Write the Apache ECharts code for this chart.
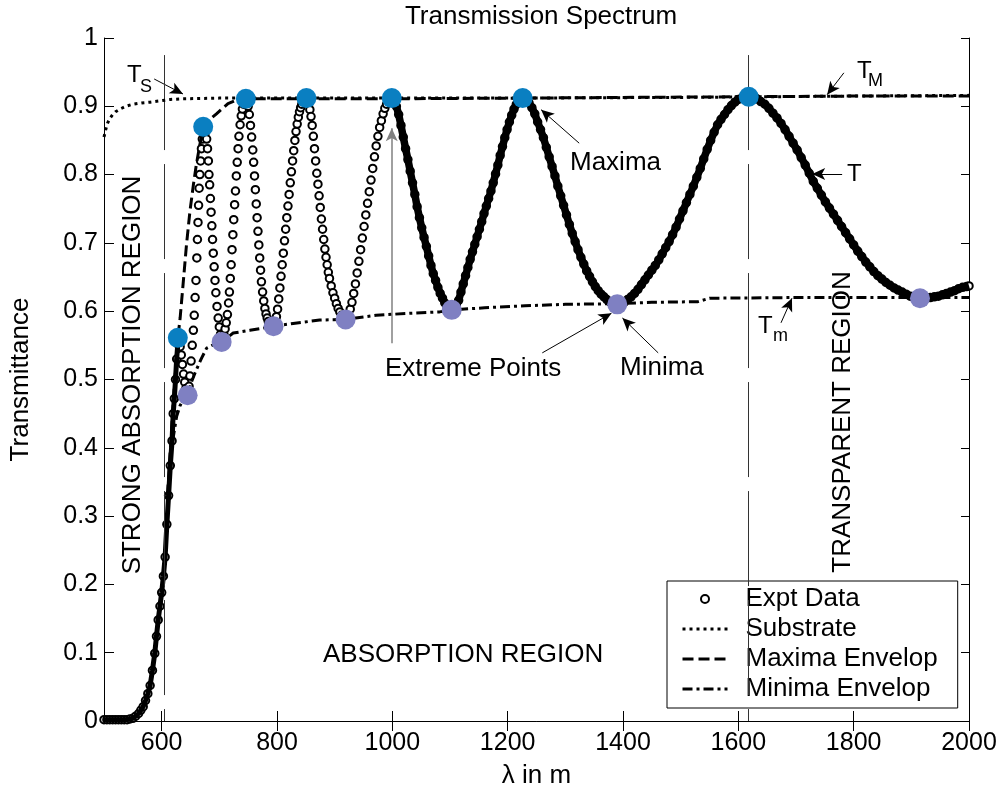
<!DOCTYPE html>
<html>
<head>
<meta charset="utf-8">
<script src="https://cdn.jsdelivr.net/npm/echarts@6/dist/echarts.min.js"></script>
<style>
  html, body { margin: 0; padding: 0; background: #fff; }
  #chart { width: 1001px; height: 794px; }
</style>
</head>
<body>
<div id="chart"></div>
<script>
// tick labels ----------------------------------------------
var xTicks = [600, 800, 1000, 1200, 1400, 1600, 1800, 2000];

// expt data: absorption edge (dense, drawn as a heavy band) --
var exptEdge = [
    [500, 0.002], [505, 0.002], [510, 0.002], [515, 0.002], [520, 0.002], [525, 0.002], [530, 0.002],
    [535, 0.002], [540, 0.002], [545, 0.003], [550, 0.004], [555, 0.007], [560, 0.011], [564, 0.016],
    [568, 0.021], [572, 0.030], [576, 0.040], [580, 0.052], [584, 0.074], [588, 0.099], [591, 0.124],
    [594, 0.148], [597, 0.168], [600, 0.188], [603, 0.212], [606, 0.240], [609, 0.288], [612, 0.330],
    [615, 0.374], [618, 0.410], [620, 0.450], [622, 0.472], [624, 0.500], [626, 0.530], [628, 0.552],
    [630, 0.557]
];

// expt data: fringes 630-1000 nm (open circles) ------------
var exptFringe = [
    [632, 0.548], [634, 0.536], [636, 0.522], [638, 0.508], [640, 0.496], [642, 0.487], [644, 0.480],
    [646, 0.478], [647.5, 0.490], [649, 0.505], [651, 0.527], [653, 0.550], [655, 0.572], [656.5, 0.594],
    [658, 0.620], [659.5, 0.645], [661, 0.678], [662, 0.705], [663, 0.730], [664, 0.755], [665, 0.780],
    [666.2, 0.800], [667.5, 0.820], [669, 0.838], [670.5, 0.852], [672, 0.864],
    [674, 0.868], [676, 0.862], [678, 0.852], [679.5, 0.838], [681, 0.820], [682, 0.800], [683.2, 0.785],
    [684.5, 0.765], [685.7, 0.745], [687, 0.725], [688.2, 0.705], [689.5, 0.685], [691, 0.665],
    [692.5, 0.645], [694, 0.627], [696, 0.607], [698, 0.590], [700, 0.577], [702, 0.566], [704, 0.558],
    [706, 0.562], [708, 0.566], [710, 0.574], [712, 0.583], [714, 0.595], [716, 0.612], [717.5, 0.628],
    [719, 0.648], [720.5, 0.668], [722, 0.690], [723.5, 0.712], [725, 0.734], [726.5, 0.756], [728, 0.776],
    [729.5, 0.798], [731, 0.818], [732.5, 0.838], [734, 0.856], [736, 0.873], [738, 0.886], [740, 0.896],
    [742, 0.903], [744, 0.909], [746, 0.911],
    [748, 0.909], [750, 0.900], [752, 0.888], [754, 0.872], [756, 0.855], [758, 0.836], [759.5, 0.818],
    [761, 0.798], [762.5, 0.778], [764, 0.757], [765.5, 0.737], [767, 0.717], [768.5, 0.697], [770, 0.678],
    [771.5, 0.660], [773, 0.643], [775, 0.628], [777, 0.615], [779, 0.604], [781, 0.596], [783, 0.590],
    [785, 0.585], [787, 0.582], [789, 0.580], [791, 0.578], [793, 0.578], [795, 0.579],
    [797, 0.583], [799, 0.592], [801, 0.603], [803, 0.618], [805, 0.634], [807, 0.651], [809, 0.668],
    [811, 0.685], [813, 0.703], [815, 0.720], [817, 0.737], [819, 0.754], [821, 0.771], [823, 0.788],
    [825, 0.804], [827, 0.820], [829, 0.835], [831, 0.850], [833, 0.863], [835, 0.874], [837, 0.884],
    [839, 0.892], [841, 0.898], [843, 0.903], [845, 0.907], [847, 0.910], [849, 0.911], [851, 0.912],
    [853, 0.910], [855, 0.904], [857, 0.895], [859, 0.885], [861, 0.872], [863, 0.856], [865, 0.838],
    [867, 0.820], [869, 0.802], [871, 0.786], [873, 0.769], [875, 0.752], [877, 0.735], [879, 0.720],
    [881, 0.705], [883, 0.691], [885, 0.679], [887, 0.668], [889, 0.657], [891, 0.648], [894, 0.637],
    [897, 0.627], [900, 0.619], [903, 0.611], [906, 0.604], [909, 0.599], [912, 0.594], [915, 0.590],
    [918, 0.588], [921, 0.589],
    [924, 0.595], [927, 0.603], [930, 0.613], [933, 0.626], [936, 0.640], [939, 0.656], [942, 0.673],
    [945, 0.690], [948, 0.707], [951, 0.724], [954, 0.741], [957, 0.758], [960, 0.775], [963, 0.792],
    [966, 0.809], [969, 0.826], [972, 0.842], [975, 0.856], [978, 0.869], [981, 0.879], [984, 0.889],
    [987, 0.897], [990, 0.903], [993, 0.908], [996, 0.911], [999, 0.912]
];

// expt data: 1000-2000 nm (dense, drawn as a heavy band) ---
var exptTail = [
    [1003, 0.909], [1007, 0.900], [1011, 0.888], [1015, 0.872], [1019, 0.855], [1023, 0.838], [1027, 0.822],
    [1031, 0.805], [1035, 0.788], [1039, 0.771], [1043, 0.753], [1047, 0.737], [1051, 0.722], [1055, 0.708],
    [1059, 0.695], [1063, 0.681], [1067, 0.667], [1071, 0.655], [1075, 0.645], [1079, 0.635], [1083, 0.626],
    [1087, 0.619], [1091, 0.612], [1095, 0.607], [1099, 0.604], [1103, 0.602], [1107, 0.603],
    [1111, 0.609], [1115, 0.616], [1119, 0.628], [1123, 0.640], [1127, 0.652], [1131, 0.664], [1135, 0.676],
    [1139, 0.687], [1143, 0.698], [1147, 0.709], [1151, 0.720], [1155, 0.731], [1159, 0.743], [1163, 0.754],
    [1167, 0.765], [1171, 0.776], [1175, 0.788], [1179, 0.801], [1183, 0.814], [1187, 0.828], [1191, 0.841],
    [1195, 0.854], [1199, 0.866], [1203, 0.877], [1207, 0.887], [1211, 0.896], [1215, 0.903], [1219, 0.908],
    [1223, 0.911], [1227, 0.912],
    [1232, 0.910], [1237, 0.905], [1242, 0.898], [1247, 0.889], [1252, 0.877], [1257, 0.866], [1262, 0.854],
    [1267, 0.840], [1272, 0.826], [1277, 0.812], [1282, 0.798], [1287, 0.783], [1292, 0.769], [1297, 0.755],
    [1302, 0.741], [1307, 0.727], [1312, 0.714], [1317, 0.702], [1322, 0.690], [1327, 0.679], [1332, 0.669],
    [1337, 0.659], [1342, 0.651], [1347, 0.643], [1352, 0.636], [1357, 0.630], [1362, 0.625], [1367, 0.621],
    [1372, 0.617], [1377, 0.614], [1382, 0.612], [1387, 0.610], [1392, 0.610], [1397, 0.611],
    [1402, 0.613], [1408, 0.617], [1414, 0.621], [1420, 0.626], [1426, 0.632], [1432, 0.639], [1438, 0.646],
    [1444, 0.653], [1450, 0.660], [1456, 0.667], [1462, 0.675], [1468, 0.684], [1474, 0.693], [1480, 0.702],
    [1486, 0.712], [1492, 0.723], [1498, 0.735], [1504, 0.747], [1510, 0.759], [1516, 0.771], [1522, 0.783],
    [1528, 0.796], [1534, 0.809], [1540, 0.823], [1546, 0.837], [1552, 0.850], [1558, 0.862], [1564, 0.873],
    [1570, 0.881], [1576, 0.888], [1582, 0.895], [1588, 0.901], [1594, 0.906], [1600, 0.910], [1606, 0.912],
    [1612, 0.914], [1618, 0.914],
    [1625, 0.913], [1632, 0.911], [1639, 0.907], [1646, 0.903], [1653, 0.897], [1660, 0.890], [1667, 0.883],
    [1674, 0.875], [1681, 0.866], [1688, 0.856], [1695, 0.846], [1702, 0.836], [1709, 0.825], [1716, 0.814],
    [1723, 0.802], [1730, 0.790], [1737, 0.780], [1744, 0.770], [1751, 0.760], [1758, 0.751], [1765, 0.742],
    [1772, 0.733], [1779, 0.724], [1786, 0.715], [1793, 0.706], [1800, 0.697], [1807, 0.688], [1814, 0.680],
    [1821, 0.672], [1828, 0.665], [1835, 0.658], [1842, 0.652], [1849, 0.647], [1856, 0.642], [1863, 0.638],
    [1870, 0.634], [1877, 0.631], [1884, 0.628], [1891, 0.625], [1898, 0.622], [1905, 0.620], [1912, 0.619],
    [1919, 0.619], [1926, 0.619], [1933, 0.620], [1940, 0.621], [1947, 0.622], [1954, 0.624], [1961, 0.626],
    [1968, 0.628], [1975, 0.630], [1982, 0.633], [1989, 0.635], [1996, 0.636], [2000, 0.637]
];

// substrate and envelopes ----------------------------------
var substrate = [
    [500, 0.855], [503, 0.866], [506, 0.875], [510, 0.882], [515, 0.888], [520, 0.892], [528, 0.896],
    [538, 0.900], [550, 0.903], [565, 0.905], [580, 0.906], [597, 0.908], [615, 0.910], [637, 0.911],
    [700, 0.912], [900, 0.912], [1200, 0.912], [1500, 0.913], [1800, 0.915], [2000, 0.916]
];
var maxEnvelop = [
    [610, 0.330], [616, 0.410], [622, 0.490], [628, 0.560], [632, 0.590], [637, 0.638], [643, 0.697],
    [649, 0.746], [655, 0.785], [660, 0.814], [666, 0.843], [672, 0.868], [685, 0.882], [695, 0.889],
    [715, 0.904], [730, 0.909], [746, 0.911], [850, 0.911], [1000, 0.911], [1227, 0.912], [1400, 0.913],
    [1618, 0.914], [1800, 0.915], [2000, 0.915]
];
var minEnvelop = [
    [615, 0.380], [620, 0.415], [626, 0.446], [632, 0.462], [638, 0.471], [645, 0.477], [652, 0.497],
    [658, 0.510], [669, 0.531], [678, 0.546], [690, 0.551], [704, 0.555], [724, 0.568], [753, 0.572],
    [782, 0.576], [794, 0.578], [828, 0.582], [874, 0.587], [919, 0.588], [972, 0.594], [1030, 0.597],
    [1082, 0.599], [1103, 0.602], [1160, 0.605], [1230, 0.608], [1300, 0.610], [1390, 0.611],
    [1450, 0.613], [1530, 0.614], [1550, 0.619], [1700, 0.620], [2000, 0.620]
];

// extreme points -------------------------------------------
var maximaPts = [[628, 0.561], [672, 0.870], [746, 0.911], [851, 0.912], [999, 0.912], [1226, 0.912], [1618, 0.914]];
var minimaPts = [[645, 0.477], [704, 0.555], [794, 0.578], [919, 0.588], [1103, 0.602], [1390, 0.610], [1915, 0.619]];

// annotation arrows [from, to] in data units ---------------
var arrows = [
    [[587, 0.940], [637, 0.918]],   // T_S
    [[1783, 0.949], [1754, 0.917]], // T_M
    [[1324, 0.846], [1258, 0.895]], // Maxima
    [[1780, 0.801], [1728, 0.801]], // T
    [[1461, 0.539], [1399, 0.590]], // Minima
    [[1260, 0.539], [1380, 0.597]], // Extreme Points
    [[1674, 0.583], [1693, 0.619]]  // T_m
];
var regionLines = [604, 1617];

var FONT = 'Liberation Sans, Arial, Helvetica, sans-serif';
var myChart = echarts.init(document.getElementById('chart'));

function txt(text, x, y, size) {
    return {
        type: 'text', x: x, y: y, silent: true, z: 20,
        style: {text: text, font: size + 'px ' + FONT, fill: '#000', textAlign: 'left', textVerticalAlign: 'middle'}
    };
}

var arrowLines = arrows.map(function (a) {
    return [{coord: a[0], symbol: 'none'}, {coord: a[1], symbol: 'arrow'}];
});
// vertical guide for "Extreme Points"
arrowLines.push([
    {coord: [999, 0.553], symbol: 'none', lineStyle: {color: '#808080', width: 1.5}},
    {coord: [999, 0.868], symbol: 'arrow'}
]);
regionLines.forEach(function (v) {
    arrowLines.push([
        {coord: [v, 0.975], symbol: 'none', lineStyle: {color: '#333', width: 1, type: [95, 14]}},
        {coord: [v, 0], symbol: 'none'}
    ]);
});

var option = {
    animation: false,
    backgroundColor: '#fff',
    textStyle: {fontFamily: FONT},
    title: {
        text: 'Transmission Spectrum',
        left: 536, top: -1, textAlign: 'center',
        textStyle: {fontSize: 26, fontWeight: 'normal', color: '#000', fontFamily: FONT}
    },
    grid: {left: 104, right: 32, top: 38, bottom: 73},
    legend: {
        orient: 'vertical',
        left: 667, top: 581,
        padding: [3, 20, 4, 14],
        itemGap: 0,
        itemWidth: 45, itemHeight: 8,
        borderColor: '#000', borderWidth: 1,
        backgroundColor: '#fff',
        textStyle: {fontSize: 26, color: '#000', lineHeight: 30, padding: [0, 0, 0, 13], fontFamily: FONT},
        data: [
            {name: 'Expt Data'},
            {name: 'Substrate', itemStyle: {opacity: 0}, lineStyle: {width: 3}},
            {name: 'Maxima Envelop', itemStyle: {opacity: 0}, lineStyle: {width: 3}},
            {name: 'Minima Envelop', itemStyle: {opacity: 0}, lineStyle: {width: 3}}
        ]
    },
    xAxis: [{
        type: 'value', min: 500, max: 2000, position: 'bottom',
        name: 'λ in m', nameLocation: 'middle', nameGap: 42,
        nameTextStyle: {fontSize: 26, color: '#000', fontFamily: FONT},
        axisLine: {lineStyle: {color: '#000', width: 1}},
        axisTick: {inside: true, length: 10, customValues: xTicks, lineStyle: {color: '#000'}},
        axisLabel: {
            customValues: xTicks, fontSize: 25, color: '#000', margin: 10, fontFamily: FONT,
            formatter: function (v) { return String(v); }
        },
        splitLine: {show: false}
    }, {
        type: 'value', min: 500, max: 2000, position: 'top',
        axisLine: {lineStyle: {color: '#000', width: 1}},
        axisTick: {inside: true, length: 10, customValues: xTicks, lineStyle: {color: '#000'}},
        axisLabel: {show: false},
        splitLine: {show: false}
    }],
    yAxis: [{
        type: 'value', min: 0, max: 1, interval: 0.1, position: 'left',
        name: 'Transmittance', nameLocation: 'middle', nameGap: 70, nameRotate: 90,
        nameTextStyle: {fontSize: 26, color: '#000', fontFamily: FONT},
        axisLine: {lineStyle: {color: '#000', width: 1}},
        axisTick: {inside: true, length: 10, lineStyle: {color: '#000'}},
        axisLabel: {fontSize: 25, color: '#000', margin: 6, fontFamily: FONT},
        splitLine: {show: false}
    }, {
        type: 'value', min: 0, max: 1, interval: 0.1, position: 'right',
        axisLine: {lineStyle: {color: '#000', width: 1}},
        axisTick: {inside: true, length: 8, lineStyle: {color: '#000'}},
        axisLabel: {show: false},
        splitLine: {show: false}
    }],
    series: [
        {
            name: 'Expt Data', type: 'scatter', z: 3,
            data: exptEdge.concat(exptFringe, exptTail),
            symbol: 'emptyCircle', symbolSize: 7.5,
            itemStyle: {color: '#000', borderColor: '#000', borderWidth: 1.1, opacity: 1}
        },
        {
            name: 'edgeBand', type: 'line', z: 4, data: exptEdge,
            symbol: 'none', lineStyle: {color: '#000', width: 5}
        },
        {
            name: 'tailBand', type: 'line', z: 4, data: exptTail,
            symbol: 'none', lineStyle: {color: '#000', width: 7.5}
        },
        {
            name: 'Substrate', type: 'line', z: 5, data: substrate,
            symbol: 'none', lineStyle: {color: '#000', width: 3, type: [3, 4]}
        },
        {
            name: 'Maxima Envelop', type: 'line', z: 6, data: maxEnvelop,
            symbol: 'none', lineStyle: {color: '#000', width: 3, type: [11, 5]}
        },
        {
            name: 'Minima Envelop', type: 'line', z: 6, data: minEnvelop,
            symbol: 'none', lineStyle: {color: '#000', width: 3, type: [10, 4, 3, 4]}
        },
        {
            name: 'Maxima', type: 'scatter', z: 8, data: maximaPts,
            symbol: 'circle', symbolSize: 20, itemStyle: {color: '#0a7fc1', opacity: 1}
        },
        {
            name: 'Minima', type: 'scatter', z: 8, data: minimaPts,
            symbol: 'circle', symbolSize: 20, itemStyle: {color: '#7f80c2', opacity: 1}
        },
        {
            name: 'annot', type: 'scatter', z: 9, data: [],
            markLine: {
                silent: true, animation: false,
                symbol: ['none', 'arrow'], symbolSize: [9, 13],
                label: {show: false},
                lineStyle: {color: '#000', width: 1, type: 'solid'},
                data: arrowLines
            }
        }
    ],
    graphic: [
        txt('T', 127, 75, 24),
        txt('S', 140, 87, 18),
        txt('T', 857, 71, 24),
        txt('M', 868, 81, 18),
        txt('T', 847, 174, 24),
        txt('T', 758, 326, 24),
        txt('m', 773, 336, 18),
        txt('Maxima', 570, 163, 26),
        txt('Minima', 620, 368, 26),
        txt('Extreme Points', 385, 369, 26),
        txt('ABSORPTION REGION', 323, 655, 26),
        {
            type: 'text', x: 133, y: 375, rotation: Math.PI / 2, silent: true, z: 20,
            style: {text: 'STRONG ABSORPTION REGION', font: '26px ' + FONT, fill: '#000', textAlign: 'center', textVerticalAlign: 'middle'}
        },
        {
            type: 'text', x: 843, y: 422, rotation: Math.PI / 2, silent: true, z: 20,
            style: {text: 'TRANSPARENT REGION', font: '26px ' + FONT, fill: '#000', textAlign: 'center', textVerticalAlign: 'middle'}
        }
    ]
};

myChart.setOption(option);
</script>
</body>
</html>
